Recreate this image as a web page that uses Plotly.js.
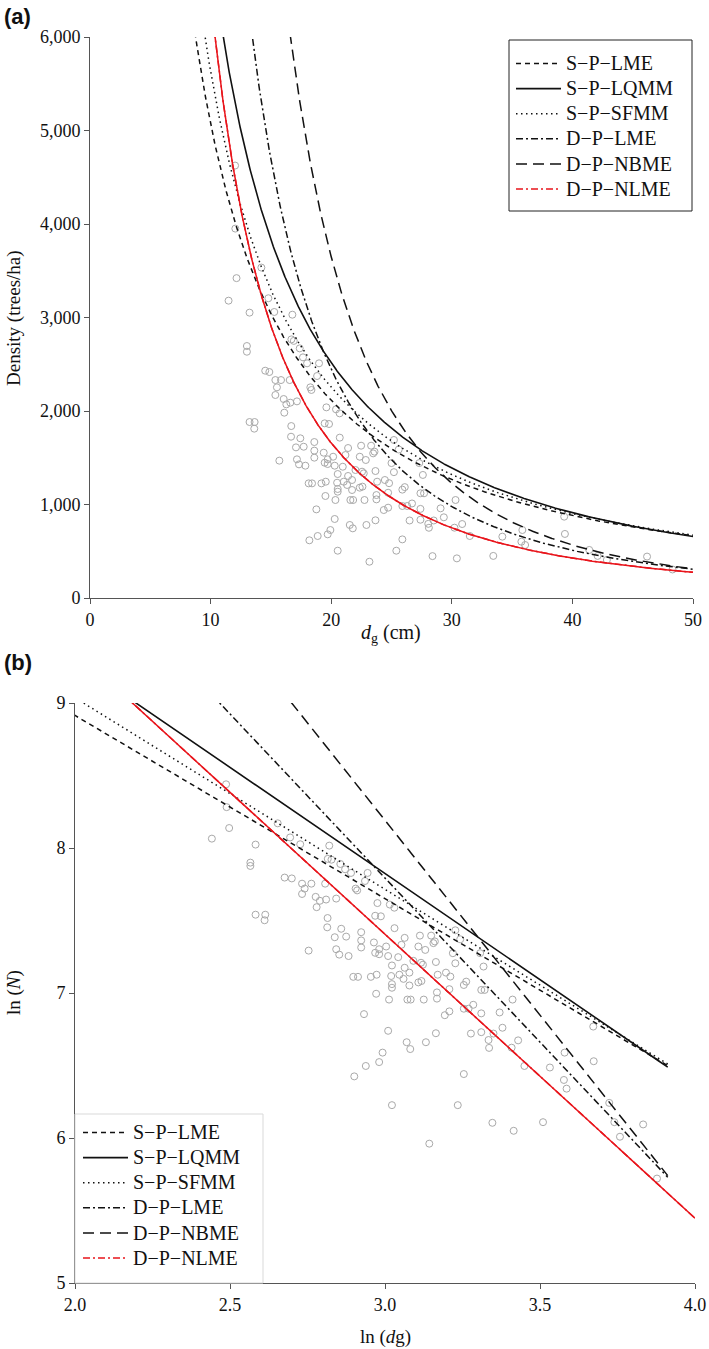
<!DOCTYPE html>
<html>
<head>
<meta charset="utf-8">
<script src="https://cdn.plot.ly/plotly-3.0.1.min.js"></script>
<style>html,body{margin:0;padding:0;background:#fff;}#chart{width:709px;height:1349px;}</style>
</head>
<body>
<div id="chart"></div>
<script>
// ---- Observed plots: quadratic mean diameter dg (cm) and density N (trees/ha)
const dgObs = [12.03,12.05,12.15,11.49,13.23,14.21,14.79,15.28,16.78,13.01,13.01,14.53,14.87,16.70,16.90,17.39,17.66,18.0,18.99,18.83,18.27,18.36,19.6,20.4,20.7,19.46,19.82,15.37,15.84,16.56,15.50,15.37,16.06,16.28,16.61,17.16,16.11,13.23,13.65,13.62,16.69,16.67,17.44,17.08,17.72,15.70,17.16,17.33,17.86,18.60,18.60,18.60,19.38,19.71,19.71,20.16,20.29,20.71,21.40,21.18,22.37,22.48,23.31,23.48,23.59,22.87,19.46,18.13,18.41,19.19,19.55,20.49,20.54,20.96,21.40,21.73,22.01,22.56,22.70,23.67,24.45,23.81,21.04,21.32,20.54,20.54,21.73,22.37,22.59,19.52,20.35,21.59,21.82,22.76,23.75,23.75,24.72,24.36,24.72,18.77,20.29,23.67,22.92,21.54,21.79,19.93,19.71,18.88,18.19,20.54,23.17,25.2,25.6,25.0,25.2,26.1,25.9,24.8,27.3,27.6,27.4,27.7,25.4,25.9,26.5,27.4,28.5,26.7,27.4,28.05,28.1,28.4,26.3,25.9,29.07,29.34,30.31,30.86,30.22,31.49,30.42,33.44,34.19,35.85,35.77,36.08,39.32,39.38,41.40,42.09,42.86,46.19,48.3];
const nObs = [4625,3951,3421,3180,3052,3534,3206,3059,3030,2695,2634,2431,2417,2766,2750,2670,2574,2510,2510,2374,2253,2225,2039,2018,1975,1868,1861,2331,2331,2331,2253,2171,2128,2071,2089,2103,1982,1882,1882,1811,1839,1725,1708,1611,1618,1469,1483,1429,1415,1668,1576,1501,1554,1483,1433,1511,1415,1715,1604,1529,1511,1629,1629,1547,1565,1476,1447,1226,1226,1226,1244,1233,1326,1404,1305,1262,1369,1351,1333,1358,1262,1244,1244,1209,1166,1137,1155,1180,1191,1091,1048,1048,1048,1048,1101,1055,1126,941,966,948,845,831,781,781,745,727,681,663,617,506,388,1690,1588,1443,1346,1186,1159,1228,1443,1316,1120,1120,506,627,829,837,829,1011,953,793,751,448,984,984,959,863,1048,791,752,663,424,450,656,727,602,567,870,685,514,450,407,443,305];

// ---- Fitted self-thinning lines: ln(N) = b0 + b1 * ln(dg)
const modelNames = ['S\u2212P\u2212LME','S\u2212P\u2212LQMM','S\u2212P\u2212SFMM','D\u2212P\u2212LME','D\u2212P\u2212NBME','D\u2212P\u2212NLME'];
const intercepts = [11.440, 12.216, 11.678, 14.582, 16.252, 13.279];
const slopes     = [-1.263, -1.464, -1.321, -2.263, -2.687, -1.958];
const dgStart    = [7.0, 7.0, 7.0, 7.0, 7.0, 7.0];
const dgEnd      = [50, 50, 50, 50, 50, 54.6];

// ---- Axis ticks
const xTicksA = [0,10,20,30,40,50];
const yTicksA = [0,1000,2000,3000,4000,5000,6000];
const xTicksB = [2.0,2.5,3.0,3.5,4.0];
const yTicksB = [5,6,7,8,9];

const W = 709, H = 1349;
const fx = px => px / W;
const fy = py => 1 - py / H;
const SERIF = '"Liberation Serif", "Times New Roman", serif';

const lineStyles = [
  {color:'#111', width:1.5, dash:'5px,4px'},
  {color:'#111', width:1.6, dash:'solid'},
  {color:'#111', width:1.5, dash:'1.5px,3.5px'},
  {color:'#111', width:1.5, dash:'7px,3px,2px,3px'},
  {color:'#111', width:1.5, dash:'11px,6px'},
  {color:'#e8141b', width:1.5, dash:'7px,3px,2px,3px'}
];

const traces = [];
const mk = {symbol:'circle-open', size:7, color:'#a9a9a9', line:{width:1, color:'#a9a9a9'}};
traces.push({x: dgObs, y: nObs, xaxis:'x', yaxis:'y', mode:'markers', type:'scatter', showlegend:false, marker:mk, hoverinfo:'skip'});
traces.push({x: dgObs.map(Math.log), y: nObs.map(Math.log), xaxis:'x2', yaxis:'y2', mode:'markers', type:'scatter', showlegend:false, marker:mk, hoverinfo:'skip'});

function curve(i){
  const xs = [], ys = [];
  for (let d = dgStart[i]; d <= dgEnd[i] + 1e-9; d += 0.05) {
    xs.push(d); ys.push(Math.exp(intercepts[i] + slopes[i] * Math.log(d)));
  }
  return {xs, ys};
}
const legName = n => '<span style="font-size:20px">' + n + '</span>';

modelNames.forEach((name, i) => {
  const c = curve(i);
  const ls = lineStyles[i];
  const isRed = i === 5;
  traces.push({x:c.xs, y:c.ys, xaxis:'x', yaxis:'y', mode:'lines', type:'scatter', name:legName(name),
    legend:'legend', line:{color:ls.color, width:ls.width, dash:ls.dash}, hoverinfo:'skip'});
  if (isRed) traces.push({x:c.xs, y:c.ys, xaxis:'x', yaxis:'y', mode:'lines', type:'scatter', showlegend:false,
    line:{color:ls.color, width:ls.width, dash:'solid'}, hoverinfo:'skip'});
  const lx = c.xs.map(Math.log), ly = c.ys.map(Math.log);
  traces.push({x:lx, y:ly, xaxis:'x2', yaxis:'y2', mode:'lines', type:'scatter', name:legName(name),
    legend:'legend2', line:{color:ls.color, width:ls.width, dash:ls.dash}, hoverinfo:'skip'});
  if (isRed) traces.push({x:lx, y:ly, xaxis:'x2', yaxis:'y2', mode:'lines', type:'scatter', showlegend:false,
    line:{color:ls.color, width:ls.width, dash:'solid'}, hoverinfo:'skip'});
});

const axCommon = {showline:true, linecolor:'#555', linewidth:1, ticks:'outside', ticklen:5, tickcolor:'#555',
  showgrid:false, zeroline:false, tickfont:{family:SERIF, size:18, color:'#111'}, fixedrange:true};

const legCommon = {xanchor:'left', yanchor:'top', bgcolor:'rgba(0,0,0,0)', borderwidth:0, itemwidth:45,
  font:{family:SERIF, size:17, color:'#111'}, tracegroupgap:0};

const layout = {
  width:W, height:H, margin:{l:0,r:0,t:0,b:0}, paper_bgcolor:'#fff', plot_bgcolor:'rgba(0,0,0,0)',
  font:{family:SERIF, color:'#111'},
  xaxis: Object.assign({}, axCommon, {domain:[fx(90), fx(693)], range:[0,50], tickvals:xTicksA, anchor:'y'}),
  yaxis: Object.assign({}, axCommon, {domain:[fy(598), fy(37)], range:[0,6000], tickvals:yTicksA, tickformat:',', anchor:'x'}),
  xaxis2: Object.assign({}, axCommon, {domain:[fx(75), fx(695)], range:[2,4], tickvals:xTicksB, tickformat:'.1f', anchor:'y2'}),
  yaxis2: Object.assign({}, axCommon, {domain:[fy(1283), fy(703)], range:[5,9], tickvals:yTicksB, anchor:'x2'}),
  legend: Object.assign({}, legCommon, {x:fx(511), y:fy(46)}),
  legend2: Object.assign({}, legCommon, {x:fx(78), y:fy(1115)}),
  shapes: [
    {type:'rect', xref:'paper', yref:'paper', x0:fx(509), x1:fx(692), y0:fy(211), y1:fy(40), line:{color:'#222', width:1}, fillcolor:'rgba(0,0,0,0)'},
    {type:'rect', xref:'paper', yref:'paper', x0:fx(75), x1:fx(263), y0:fy(1283), y1:fy(1114), line:{color:'#d9d9d9', width:1}, fillcolor:'rgba(0,0,0,0)'}
  ],
  annotations: [
    {text:'<b>(a)</b>', xref:'paper', yref:'paper', x:fx(2), y:fy(2), xanchor:'left', yanchor:'top', showarrow:false,
     font:{family:'Liberation Sans', size:22, color:'#111'}},
    {text:'<b>(b)</b>', xref:'paper', yref:'paper', x:fx(2), y:fy(648), xanchor:'left', yanchor:'top', showarrow:false,
     font:{family:'Liberation Sans', size:22, color:'#111'}},
    {text:'Density (trees/ha)', xref:'paper', yref:'paper', x:fx(14), y:fy(318), xanchor:'center', yanchor:'middle', textangle:-90, showarrow:false,
     font:{family:SERIF, size:19, color:'#111'}},
    {text:'<i>d</i><sub>g</sub> (cm)', xref:'paper', yref:'paper', x:fx(391), y:fy(634), xanchor:'center', yanchor:'middle', showarrow:false,
     font:{family:SERIF, size:20, color:'#111'}},
    {text:'ln (<i>N</i>)', xref:'paper', yref:'paper', x:fx(14), y:fy(993), xanchor:'center', yanchor:'middle', textangle:-90, showarrow:false,
     font:{family:SERIF, size:19, color:'#111'}},
    {text:'ln (<i>d</i>g)', xref:'paper', yref:'paper', x:fx(385), y:fy(1337), xanchor:'center', yanchor:'middle', showarrow:false,
     font:{family:SERIF, size:19, color:'#111'}}
  ]
};

Plotly.newPlot('chart', traces, layout, {staticPlot:true, displayModeBar:false});
</script>
</body>
</html>
